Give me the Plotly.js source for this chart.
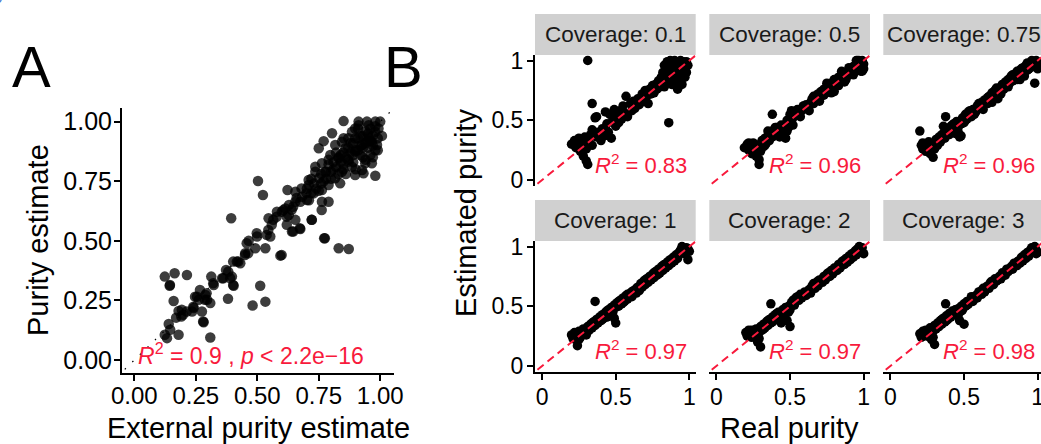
<!DOCTYPE html>
<html>
<head>
<meta charset="utf-8">
<script src="https://cdn.plot.ly/plotly-3.0.1.min.js"></script>
<style>
  html, body { margin: 0; padding: 0; background: #fff; overflow: hidden; }
  #chart { width: 1041px; height: 444px; }
</style>
</head>
<body>
<div id="chart"></div>
<script>
// ---------- Panel A: external vs. estimated purity ----------
const panelA = [
  [0.124,0.350],[0.164,0.364],[0.214,0.357],[0.144,0.312],[0.160,0.248],[0.180,0.206],[0.191,0.183],
  [0.198,0.190],[0.170,0.178],[0.140,0.151],[0.146,0.127],[0.124,0.106],[0.133,0.092],[0.180,0.106],
  [0.309,0.095],[0.289,0.273],[0.296,0.253],[0.255,0.266],[0.262,0.253],[0.241,0.218],[0.235,0.204],
  [0.275,0.204],[0.282,0.159],[0.309,0.239],[0.381,0.257],[0.481,0.229],[0.533,0.245],[0.512,0.312],
  [0.313,0.350],[0.323,0.315],[0.357,0.343],[0.390,0.343],[0.397,0.350],[0.404,0.312],[0.373,0.378],
  [0.417,0.413],[0.431,0.406],[0.451,0.448],[0.465,0.500],[0.499,0.518],[0.553,0.518],[0.492,0.469],
  [0.533,0.469],[0.594,0.438],[0.772,0.511],[0.831,0.469],[0.872,0.466],[0.394,0.595],
  [0.247,0.266],[0.267,0.294],[0.294,0.280],[0.287,0.253],[0.321,0.322],[0.362,0.343],[0.382,0.371],
  [0.402,0.315],[0.213,0.204],[0.193,0.211],[0.240,0.224],[0.280,0.162],[0.145,0.315],
  [0.402,0.413],[0.423,0.413],[0.450,0.441],[0.463,0.448],[0.457,0.490],[0.498,0.532],[0.538,0.525],
  [0.545,0.546],[0.559,0.567],[0.565,0.588],[0.579,0.601],[0.620,0.601],[0.620,0.567],[0.606,0.629],
  [0.646,0.643],[0.599,0.441],[0.646,0.539],[0.673,0.553],[0.721,0.588],[0.762,0.629],[0.775,0.511],
  [0.503,0.751],[0.523,0.692],[0.623,0.713],[0.546,0.595],[0.580,0.622],[0.614,0.636],[0.655,0.588],
  [0.641,0.539],[0.675,0.550],[0.736,0.811],[0.709,0.755],[0.722,0.588],
  [0.655,0.706],[0.682,0.685],[0.702,0.720],[0.729,0.699],[0.763,0.713],[0.790,0.664],[0.750,0.762],
  [0.776,0.790],[0.817,0.762],[0.837,0.741],[0.844,0.790],[0.831,0.846],[0.872,0.832],[0.898,0.874],
  [0.926,0.902],[0.953,0.930],[0.953,0.985],[0.980,0.957],[0.939,0.825],[0.898,0.776],[0.885,0.811],
  [0.858,0.888],[0.817,0.902],[0.797,0.860],[0.763,0.825],[0.736,0.790],[0.709,0.734],[0.702,0.671],
  [0.655,0.664],[0.629,0.650],[0.600,0.622],[0.628,0.608],[0.675,0.664],[0.763,0.664],[0.790,0.734],
  [0.844,0.915],[0.898,0.930],[0.912,0.985],[0.885,0.957],[0.993,0.971],[0.966,0.915],[0.987,0.902],
  [0.960,0.860],[0.919,0.860],
  [0.851,1.002],[0.912,1.000],[0.946,1.000],[0.980,1.000],[1.000,1.000],[0.804,0.951],[0.770,0.918],
  [0.750,0.888],[0.851,0.930],[0.898,0.971],[1.007,0.940],[0.980,0.880],[0.966,0.825],[0.926,0.797],
  [0.932,0.783],[0.980,0.773],
  [0.84,0.83],[0.86,0.85],[0.88,0.87],[0.90,0.88],[0.92,0.90],[0.94,0.91],[0.96,0.92],[0.97,0.90],
  [0.99,0.88],[0.82,0.81],[0.80,0.79],[0.78,0.76],[0.76,0.74],[0.74,0.72],[0.72,0.70],[0.93,0.94],
  [0.95,0.95],[0.91,0.93],[0.89,0.91],[0.87,0.89],[0.85,0.87],[0.83,0.85],[0.81,0.83],[0.79,0.82],
  [0.86,0.78],[0.90,0.80],[0.94,0.84],[0.97,0.85],
  [0.68,0.72],[0.70,0.70],[0.71,0.67],[0.73,0.74],[0.75,0.71],[0.77,0.75],[0.78,0.79],[0.80,0.76],
  [0.81,0.80],[0.83,0.78],[0.84,0.86],[0.85,0.82],[0.87,0.84],[0.88,0.91],[0.89,0.86],[0.91,0.88],
  [0.92,0.94],[0.93,0.89],[0.94,0.96],[0.95,0.92],[0.96,0.97],[0.97,0.94],[0.98,0.98],[0.99,0.93],
  [0.91,0.97],[0.87,0.93],[0.82,0.87],[0.79,0.84],[0.76,0.78],[0.72,0.76],[0.66,0.68],[0.64,0.63],
  [0.95,0.89],[0.93,0.85],[0.89,0.83],[0.85,0.80]
];
const panelAStat = '<i>R</i><sup>2</sup> = 0.9 , <i>p</i> &lt; 2.2e\u221216';
const panelATicks = [0, 0.25, 0.5, 0.75, 1];
const panelATickText = ['0.00', '0.25', '0.50', '0.75', '1.00'];

// ---------- Panel B: real vs. estimated purity at each coverage ----------
const coverages = ['0.1', '0.5', '0.75', '1', '2', '3'];
const rSquared = ['0.83', '0.96', '0.96', '0.97', '0.97', '0.98'];

const cov01 = [
  [0.20,0.30],[0.22,0.33],[0.23,0.27],[0.24,0.29],[0.25,0.35],[0.26,0.24],[0.27,0.31],[0.28,0.20],
  [0.29,0.36],[0.30,0.16],[0.30,0.26],[0.31,0.13],[0.32,0.31],[0.33,0.38],[0.34,0.29],
  [0.31,1.00],[0.34,0.64],[0.36,0.52],[0.37,0.53],[0.86,0.48],[0.34,0.42],
  [0.37,0.36],[0.38,0.40],[0.40,0.33],[0.41,0.43],[0.42,0.37],[0.43,0.57],[0.44,0.47],[0.45,0.40],
  [0.46,0.55],[0.47,0.35],[0.48,0.50],[0.49,0.59],[0.50,0.45],[0.51,0.53],[0.52,0.48],[0.53,0.58],
  [0.54,0.51],[0.55,0.62],[0.56,0.56],[0.57,0.70],[0.58,0.53],[0.60,0.64],[0.61,0.58],[0.62,0.66],
  [0.63,0.60],[0.65,0.68],[0.66,0.63],[0.68,0.72],[0.69,0.66],[0.70,0.75],[0.71,0.70],[0.72,0.64],
  [0.73,0.76],[0.74,0.72],[0.75,0.79],[0.76,0.73],[0.77,0.80],[0.78,0.76],[0.79,0.83],[0.80,0.78],
  [0.81,0.86],[0.82,0.80],
  [0.82,0.90],[0.83,0.96],[0.84,0.86],[0.85,0.99],[0.85,0.92],[0.86,0.82],[0.87,0.95],[0.87,1.00],
  [0.88,0.88],[0.89,0.97],[0.89,0.84],[0.90,1.00],[0.90,0.92],[0.91,0.96],[0.91,0.87],[0.92,0.99],
  [0.93,0.93],[0.93,0.83],[0.94,1.00],[0.94,0.89],[0.95,0.96],[0.95,0.80],[0.96,0.99],[0.96,0.91],
  [0.97,0.94],[0.97,0.86],[0.98,0.99],[0.98,0.90],[0.99,0.96],[0.83,0.78],[0.88,0.80],[0.92,0.76]
];
const cov05 = [
  [0.19,0.27],[0.21,0.30],[0.22,0.25],[0.23,0.28],[0.24,0.22],[0.25,0.31],[0.26,0.26],[0.27,0.20],
  [0.28,0.29],[0.29,0.13],[0.29,0.17],[0.30,0.24],[0.31,0.33],[0.32,0.28],[0.33,0.35],[0.34,0.31],
  [0.35,0.37],[0.36,0.33],[0.38,0.55],[0.37,0.40],[0.38,0.36],[0.39,0.42],[0.40,0.38],[0.41,0.44],
  [0.42,0.40],[0.43,0.36],[0.44,0.46],[0.45,0.42],[0.46,0.38],[0.47,0.35],[0.48,0.50],[0.48,0.41],
  [0.50,0.55],[0.50,0.47],[0.51,0.58],[0.52,0.52],[0.53,0.56],[0.54,0.54],[0.56,0.57],[0.58,0.58],
  [0.60,0.61],[0.61,0.63],[0.62,0.60],[0.64,0.65],[0.65,0.68],[0.66,0.64],[0.67,0.70],[0.68,0.67],
  [0.69,0.72],[0.70,0.69],[0.71,0.74],[0.72,0.71],[0.73,0.76],[0.74,0.73],[0.75,0.78],[0.76,0.75],
  [0.77,0.80],[0.78,0.77],[0.79,0.82],[0.80,0.79],[0.81,0.84],[0.82,0.81],[0.83,0.86],[0.84,0.83],
  [0.85,0.88],[0.86,0.85],[0.87,0.89],[0.88,0.86],[0.89,0.91],[0.90,0.88],[0.91,0.93],[0.92,0.90],
  [0.93,0.95],[0.94,0.92],[0.95,0.97],[0.96,0.94],[0.97,1.00],[0.98,0.96],[0.99,0.99],[1.00,0.97],
  [0.96,1.00],[0.99,0.91],[0.87,0.82],[0.80,0.74],
  [0.22,0.31],[0.25,0.24],[0.27,0.28],[0.30,0.30],[0.33,0.29],[0.35,0.41],[0.40,0.44],[0.43,0.41],
  [0.45,0.37],[0.47,0.45],[0.49,0.44],[0.52,0.46],[0.55,0.59],[0.57,0.53],[0.59,0.62],[0.63,0.58],
  [0.66,0.70],[0.70,0.66],[0.73,0.71],[0.75,0.81],[0.78,0.73],[0.80,0.84],[0.83,0.79],[0.85,0.91],
  [0.88,0.84],[0.90,0.94],[0.93,0.88],[0.95,1.00],[0.97,0.93],[0.99,1.00],[1.00,0.93],[0.98,0.91]
];
const cov075 = [
  [0.20,0.41],[0.21,0.29],[0.22,0.26],[0.23,0.30],[0.24,0.24],[0.25,0.28],[0.26,0.32],[0.27,0.22],
  [0.28,0.27],[0.29,0.19],[0.30,0.30],[0.31,0.34],[0.32,0.29],[0.33,0.36],[0.34,0.32],[0.35,0.38],
  [0.36,0.45],[0.375,0.53],[0.37,0.35],[0.38,0.40],[0.39,0.43],[0.40,0.38],[0.41,0.45],[0.42,0.41],
  [0.43,0.47],[0.44,0.39],[0.45,0.49],[0.46,0.44],[0.47,0.36],[0.48,0.37],[0.49,0.52],[0.50,0.48],
  [0.51,0.55],[0.52,0.51],[0.53,0.57],[0.55,0.53],[0.56,0.59],[0.58,0.57],[0.59,0.62],[0.61,0.60],
  [0.62,0.65],[0.63,0.62],[0.64,0.67],[0.66,0.64],[0.67,0.70],[0.68,0.66],[0.69,0.73],[0.70,0.70],
  [0.71,0.75],[0.72,0.72],[0.73,0.68],[0.74,0.77],[0.75,0.74],[0.76,0.80],[0.77,0.76],[0.78,0.82],
  [0.79,0.79],[0.80,0.84],[0.81,0.81],[0.82,0.87],[0.83,0.83],[0.84,0.88],[0.85,0.85],[0.86,0.91],
  [0.87,0.87],[0.88,0.92],[0.89,0.89],[0.90,0.94],[0.91,0.90],[0.92,0.96],[0.93,0.92],[0.94,0.97],
  [0.95,0.94],[0.96,1.00],[0.97,0.95],[0.98,0.99],[0.99,0.96],[1.00,0.93],[0.98,0.81],[0.93,0.98],
  [0.88,0.84],
  [0.22,0.31],[0.24,0.28],[0.27,0.30],[0.30,0.26],[0.33,0.31],[0.36,0.36],[0.39,0.38],[0.42,0.46],
  [0.44,0.43],[0.46,0.40],[0.48,0.47],[0.51,0.50],[0.54,0.58],[0.57,0.55],[0.60,0.64],[0.63,0.59],
  [0.66,0.69],[0.69,0.65],[0.72,0.77],[0.75,0.72],[0.78,0.78],[0.80,0.78],[0.83,0.88],[0.86,0.84],
  [0.89,0.93],[0.91,0.87],[0.94,0.93],[0.96,0.95],[0.99,1.00],[1.00,0.98]
];
const cov1 = [
  [0.20,0.26],[0.21,0.23],[0.22,0.28],[0.23,0.22],[0.24,0.17],[0.24,0.25],[0.25,0.29],[0.26,0.24],
  [0.27,0.27],[0.28,0.31],[0.29,0.28],[0.30,0.26],[0.31,0.33],[0.32,0.30],[0.33,0.35],[0.34,0.32],
  [0.35,0.37],[0.36,0.54],[0.36,0.34],[0.37,0.39],[0.38,0.36],[0.39,0.41],[0.40,0.38],[0.41,0.43],
  [0.42,0.40],[0.43,0.45],[0.44,0.41],[0.45,0.47],[0.46,0.43],[0.47,0.49],[0.48,0.45],[0.49,0.51],
  [0.50,0.36],[0.50,0.49],[0.51,0.53],[0.52,0.50],[0.53,0.55],[0.54,0.52],[0.55,0.57],[0.56,0.54],
  [0.57,0.59],[0.58,0.56],[0.60,0.61],[0.61,0.58],[0.62,0.63],[0.64,0.61],[0.65,0.66],[0.66,0.63],
  [0.67,0.69],[0.68,0.66],[0.69,0.71],[0.70,0.68],[0.71,0.73],[0.72,0.70],[0.73,0.75],[0.74,0.72],
  [0.75,0.77],[0.76,0.74],[0.77,0.79],[0.78,0.76],[0.79,0.81],[0.80,0.78],[0.81,0.83],[0.82,0.80],
  [0.83,0.85],[0.84,0.82],[0.85,0.87],[0.86,0.84],[0.87,0.89],[0.88,0.86],[0.89,0.91],[0.90,0.88],
  [0.91,0.93],[0.92,0.90],[0.93,0.95],[0.94,0.97],[0.95,1.00],[0.96,0.98],[0.97,0.94],[0.98,0.99],
  [0.99,0.89],[1.00,0.96],
  [0.22,0.24],[0.25,0.22],[0.28,0.27],[0.31,0.29],[0.34,0.36],[0.38,0.39],[0.41,0.39],[0.44,0.46],
  [0.47,0.44],[0.49,0.40],[0.52,0.54],[0.55,0.53],[0.58,0.60],[0.61,0.62],[0.64,0.65],[0.67,0.66],
  [0.70,0.72],[0.73,0.72],[0.76,0.78],[0.79,0.77],[0.82,0.84],[0.85,0.84],[0.88,0.89],[0.91,0.90],
  [0.94,0.94],[0.96,0.95],[0.99,0.98]
];
const cov2 = [
  [0.20,0.28],[0.21,0.25],[0.22,0.30],[0.23,0.27],[0.24,0.24],[0.25,0.29],[0.26,0.26],[0.27,0.31],
  [0.28,0.20],[0.29,0.28],[0.30,0.16],[0.30,0.33],[0.31,0.30],[0.32,0.35],[0.33,0.32],[0.34,0.37],
  [0.35,0.34],[0.36,0.39],[0.37,0.52],[0.37,0.36],[0.38,0.41],[0.39,0.38],[0.40,0.43],[0.41,0.40],
  [0.42,0.45],[0.43,0.42],[0.44,0.36],[0.45,0.47],[0.46,0.44],[0.47,0.49],[0.48,0.38],[0.49,0.50],
  [0.50,0.33],[0.50,0.47],[0.51,0.53],[0.52,0.55],[0.53,0.51],[0.54,0.57],[0.56,0.55],[0.57,0.60],
  [0.58,0.57],[0.60,0.62],[0.61,0.59],[0.63,0.64],[0.64,0.61],[0.65,0.67],[0.67,0.65],[0.68,0.70],
  [0.69,0.67],[0.70,0.72],[0.72,0.70],[0.73,0.75],[0.74,0.72],[0.75,0.77],[0.77,0.75],[0.78,0.80],
  [0.79,0.77],[0.80,0.82],[0.82,0.80],[0.83,0.85],[0.84,0.82],[0.85,0.87],[0.87,0.85],[0.88,0.90],
  [0.89,0.87],[0.90,0.92],[0.91,0.89],[0.92,0.94],[0.93,0.91],[0.94,0.96],[0.95,0.93],[0.96,0.98],
  [0.97,1.00],[0.98,0.96],[0.99,0.99],[1.00,0.94],
  [0.22,0.26],[0.24,0.30],[0.27,0.26],[0.29,0.23],[0.32,0.31],[0.35,0.38],[0.38,0.37],[0.41,0.44],
  [0.44,0.44],[0.46,0.40],[0.49,0.45],[0.52,0.51],[0.55,0.58],[0.59,0.60],[0.62,0.61],[0.66,0.69],
  [0.69,0.71],[0.72,0.73],[0.76,0.78],[0.79,0.80],[0.82,0.83],[0.86,0.88],[0.89,0.90],[0.92,0.91],
  [0.95,0.97],[0.98,0.99],[0.99,0.95]
];
const cov3 = [
  [0.20,0.27],[0.21,0.24],[0.22,0.29],[0.23,0.26],[0.24,0.30],[0.25,0.25],[0.26,0.28],[0.27,0.32],
  [0.28,0.22],[0.29,0.29],[0.30,0.18],[0.30,0.34],[0.31,0.31],[0.32,0.36],[0.33,0.33],[0.34,0.38],
  [0.35,0.35],[0.36,0.40],[0.375,0.52],[0.37,0.37],[0.38,0.42],[0.39,0.39],[0.40,0.44],[0.41,0.41],
  [0.42,0.46],[0.43,0.43],[0.44,0.47],[0.45,0.45],[0.46,0.48],[0.47,0.38],[0.48,0.50],[0.49,0.47],
  [0.50,0.35],[0.50,0.52],[0.51,0.50],[0.52,0.54],[0.53,0.52],[0.55,0.56],[0.56,0.54],[0.58,0.59],
  [0.59,0.57],[0.60,0.62],[0.62,0.60],[0.63,0.65],[0.64,0.62],[0.66,0.67],[0.67,0.65],[0.68,0.70],
  [0.70,0.68],[0.71,0.73],[0.72,0.71],[0.74,0.75],[0.75,0.73],[0.76,0.78],[0.78,0.76],[0.79,0.81],
  [0.80,0.79],[0.82,0.83],[0.83,0.81],[0.84,0.86],[0.86,0.84],[0.87,0.88],[0.88,0.86],[0.89,0.91],
  [0.90,0.88],[0.91,0.93],[0.92,0.90],[0.93,0.95],[0.94,0.92],[0.95,0.97],[0.96,0.99],[0.97,0.96],
  [0.98,1.00],[0.99,0.97],[1.00,0.95],
  [0.22,0.25],[0.25,0.29],[0.27,0.26],[0.29,0.24],[0.32,0.33],[0.35,0.39],[0.38,0.38],[0.41,0.44],
  [0.44,0.45],[0.46,0.42],[0.48,0.46],[0.52,0.51],[0.55,0.58],[0.58,0.57],[0.62,0.63],[0.65,0.66],
  [0.69,0.71],[0.73,0.72],[0.76,0.77],[0.80,0.81],[0.83,0.84],[0.86,0.87],[0.89,0.89],[0.92,0.93],
  [0.95,0.95],[0.97,0.99],[0.99,0.94]
];
const facetData = [cov01, cov05, cov075, cov1, cov2, cov3];
const facetTicks = [0, 0.5, 1];
const facetTickText = ['0', '0.5', '1'];

// ---------- layout helpers (pixel -> paper fractions) ----------
const W = 1041, H = 444;
const FONT = '"Liberation Sans", Arial, Helvetica, sans-serif';
const RED = '#f81a3c';
const fx = p => p / W;
const fy = p => 1 - p / H;

const baseAxis = {
  showgrid: false, zeroline: false, showline: true, linecolor: '#000', linewidth: 2,
  ticks: 'outside', ticklen: 6, tickwidth: 2, tickcolor: '#000',
  tickfont: { family: FONT, size: 23, color: '#000' }, fixedrange: true,
  ticklabeloverflow: 'allow'
};

const layout = {
  width: W, height: H,
  margin: { l: 0, r: 0, t: 0, b: 0, pad: 0 },
  paper_bgcolor: '#fff', plot_bgcolor: 'rgba(0,0,0,0)',
  showlegend: false,
  font: { family: FONT, color: '#000' },
  shapes: [], annotations: []
};

const traces = [];

// Panel A axes
layout.xaxis = Object.assign({}, baseAxis, {
  domain: [fx(122), fx(394)], range: [-0.05, 1.056], anchor: 'y',
  tickvals: panelATicks, ticktext: panelATickText, ticklabelstandoff: -5,
  tickfont: { family: FONT, size: 24, color: '#000' }
});
layout.yaxis = Object.assign({}, baseAxis, {
  domain: [fy(372.5), fy(108)], range: [-0.052, 1.057], anchor: 'x',
  tickvals: panelATicks, ticktext: panelATickText, ticklabelstandoff: -3,
  tickfont: { family: FONT, size: 25, color: '#000' }
});

traces.push({
  type: 'scatter', mode: 'markers', xaxis: 'x', yaxis: 'y',
  x: panelA.map(d => d[0]), y: panelA.map(d => d[1]),
  marker: { size: 10.5, color: 'rgba(0,0,0,0.76)', line: { width: 0 } },
  hoverinfo: 'skip'
});
traces.push({
  type: 'scatter', mode: 'lines', xaxis: 'x', yaxis: 'y',
  x: [-0.1, 1.1], y: [-0.1, 1.1],
  line: { color: '#000', width: 1.2, dash: '1.5px,9px' }, hoverinfo: 'skip'
});

layout.annotations.push({
  xref: 'x', yref: 'y', x: 0.008, y: 0.024, xanchor: 'left', yanchor: 'middle',
  text: panelAStat, showarrow: false, font: { family: FONT, size: 23, color: RED }
});

// Panel B facets
const colPx = [[535, 695.7], [709.3, 870], [883.3, 1041]];
const rowPx = [[55, 186], [241, 372]];
const stripPx = [[14, 55], [200, 241]];
const xUnit = 147.3;

facetData.forEach((pts, i) => {
  const row = Math.floor(i / 3), col = i % 3;
  const n = i + 2;
  const xName = 'xaxis' + n, yName = 'yaxis' + n;
  const xr = [-0.048, -0.048 + (colPx[col][1] - colPx[col][0]) / xUnit];

  layout[xName] = Object.assign({}, baseAxis, {
    domain: [fx(colPx[col][0]), fx(colPx[col][1])], range: xr, anchor: 'y' + n,
    tickvals: facetTicks, ticktext: facetTickText, ticklabelstandoff: -3,
    showline: row === 1, ticks: row === 1 ? 'outside' : '', showticklabels: row === 1
  });
  layout[yName] = Object.assign({}, baseAxis, {
    domain: [fy(rowPx[row][1]), fy(rowPx[row][0])], range: [-0.05, 1.046], anchor: 'x' + n,
    tickvals: facetTicks, ticktext: facetTickText, ticklabelstandoff: -1,
    showline: col === 0, ticks: col === 0 ? 'outside' : '', showticklabels: col === 0
  });

  traces.push({
    type: 'scatter', mode: 'markers', xaxis: 'x' + n, yaxis: 'y' + n,
    x: pts.map(d => d[0]), y: pts.map(d => d[1]),
    marker: { size: 9.5, color: '#000', line: { width: 0 } }, hoverinfo: 'skip'
  });
  traces.push({
    type: 'scatter', mode: 'lines', xaxis: 'x' + n, yaxis: 'y' + n,
    x: [-0.1, 1.2], y: [-0.1, 1.2],
    line: { color: RED, width: 2, dash: '8px,5px' }, hoverinfo: 'skip'
  });

  // facet strip
  layout.shapes.push({
    type: 'rect', xref: 'paper', yref: 'paper',
    x0: fx(colPx[col][0]), x1: fx(colPx[col][0] + 160.7),
    y0: fy(stripPx[row][1]), y1: fy(stripPx[row][0]),
    fillcolor: '#d0d0d0', line: { width: 0 }, layer: 'below'
  });
  layout.annotations.push({
    xref: 'paper', yref: 'paper',
    x: fx(colPx[col][0] + 80.35), y: fy((stripPx[row][0] + stripPx[row][1]) / 2),
    xanchor: 'center', yanchor: 'middle', showarrow: false,
    text: 'Coverage: ' + coverages[i], font: { family: FONT, size: 22.5, color: '#1a1a1a' }
  });
  // R squared label
  layout.annotations.push({
    xref: 'x' + n, yref: 'y' + n, x: 0.995, y: 0.135, xanchor: 'right', yanchor: 'middle',
    showarrow: false, text: '<i>R</i><sup>2</sup> = ' + rSquared[i],
    font: { family: FONT, size: 22, color: RED }
  });
});

// axis titles and panel letters
const titleFont = { family: FONT, size: 29, color: '#000' };
layout.annotations.push(
  { xref: 'paper', yref: 'paper', x: fx(258), y: fy(428), xanchor: 'center', yanchor: 'middle',
    showarrow: false, text: 'External purity estimate', font: titleFont },
  { xref: 'paper', yref: 'paper', x: fx(38), y: fy(240), xanchor: 'center', yanchor: 'middle',
    showarrow: false, text: 'Purity estimate', textangle: -90, font: titleFont },
  { xref: 'paper', yref: 'paper', x: fx(789), y: fy(428), xanchor: 'center', yanchor: 'middle',
    showarrow: false, text: 'Real purity', font: titleFont },
  { xref: 'paper', yref: 'paper', x: fx(466), y: fy(213), xanchor: 'center', yanchor: 'middle',
    showarrow: false, text: 'Estimated purity', textangle: -90, font: titleFont },
  { xref: 'paper', yref: 'paper', x: fx(31), y: fy(66), xanchor: 'center', yanchor: 'middle',
    showarrow: false, text: 'A', font: { family: FONT, size: 58, color: '#000' } },
  { xref: 'paper', yref: 'paper', x: fx(403), y: fy(66), xanchor: 'center', yanchor: 'middle',
    showarrow: false, text: 'B', font: { family: FONT, size: 58, color: '#000' } },
  { xref: 'paper', yref: 'paper', x: fx(-5), y: fy(5), xanchor: 'left', yanchor: 'bottom',
    showarrow: false, text: 'y:', font: { family: FONT, size: 16, color: '#4a7bd0' } }
);

Plotly.newPlot('chart', traces, layout, { staticPlot: true, displayModeBar: false });
</script>
</body>
</html>
